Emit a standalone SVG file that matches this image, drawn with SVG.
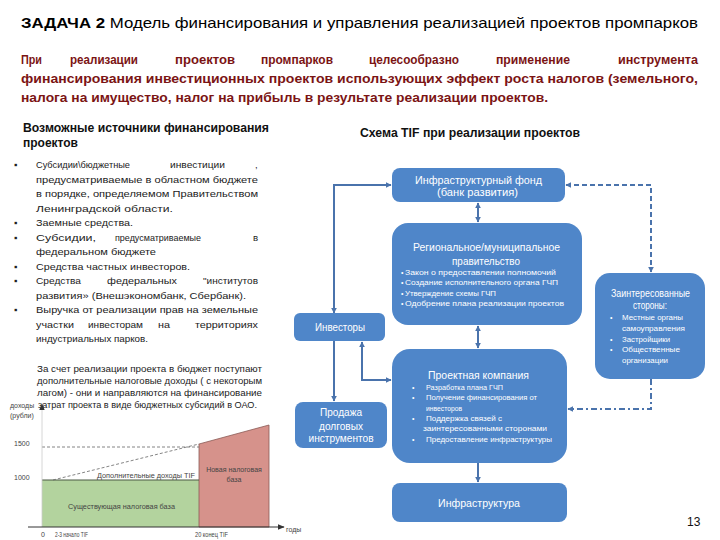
<svg xmlns="http://www.w3.org/2000/svg" width="720" height="540" viewBox="0 0 720 540">
<defs>
<style>
text{font-family:"Liberation Sans",Arial,sans-serif}
.title{font-size:15px;fill:#000}
.red{font-size:13.5px;font-weight:bold;fill:#7B1414}
.hd{font-size:12px;font-weight:bold;fill:#111}
.li{font-size:9.6px;fill:#222}
.par{font-size:8.5px;fill:#222}
.ch{font-size:7px;fill:#444}
.box{fill:#4F86C9}
.bt{fill:#fff;font-size:10px}
.bs{fill:#fff;font-size:7px}
.con{fill:none;stroke:#4A73AC;stroke-width:2}
.dash{stroke-dasharray:5 3}
.dd{stroke-dasharray:6 3 2 3}
</style>
<marker id="ar" viewBox="0 0 10 10" refX="9" refY="5" markerWidth="6" markerHeight="6" markerUnits="userSpaceOnUse" orient="auto-start-reverse">
<path d="M0,0 L10,5 L0,10 z" fill="#4A73AC"/>
</marker>
<marker id="ca" viewBox="0 0 10 10" refX="9" refY="5" markerWidth="7" markerHeight="7" markerUnits="userSpaceOnUse" orient="auto">
<path d="M0,1 L10,5 L0,9 z" fill="#333"/>
</marker>
</defs>
<rect width="720" height="540" fill="#fff"/>

<!-- Title -->
<text class="title" x="21" y="28" textLength="677" lengthAdjust="spacingAndGlyphs"><tspan font-weight="bold">ЗАДАЧА 2</tspan> Модель финансирования и управления реализацией проектов промпарков</text>

<!-- Red paragraph -->
<g class="red">
<text x="21" y="64" textLength="21" lengthAdjust="spacingAndGlyphs">При</text>
<text x="70" y="64" textLength="68" lengthAdjust="spacingAndGlyphs">реализации</text>
<text x="175" y="64" textLength="60" lengthAdjust="spacingAndGlyphs">проектов</text>
<text x="261" y="64" textLength="72" lengthAdjust="spacingAndGlyphs">промпарков</text>
<text x="369" y="64" textLength="90" lengthAdjust="spacingAndGlyphs">целесообразно</text>
<text x="496" y="64" textLength="74" lengthAdjust="spacingAndGlyphs">применение</text>
<text x="618" y="64" textLength="80" lengthAdjust="spacingAndGlyphs">инструмента</text>
<text x="21" y="83" textLength="677" lengthAdjust="spacingAndGlyphs">финансирования инвестиционных проектов использующих эффект роста налогов (земельного,</text>
<text x="21" y="102" textLength="527" lengthAdjust="spacingAndGlyphs">налога на имущество, налог на прибыль  в результате реализации проектов.</text>
</g>

<!-- Left column -->
<g id="sources">
<text class="hd" x="23" y="132" textLength="246" lengthAdjust="spacingAndGlyphs">Возможные источники финансирования</text>
<text class="hd" x="23" y="147" textLength="55" lengthAdjust="spacingAndGlyphs">проектов</text>
<g class="li">
<text x="14" y="168">▪</text>
<text x="36" y="168" textLength="94" lengthAdjust="spacingAndGlyphs">Субсидии\бюджетные</text>
<text x="170" y="168" textLength="55" lengthAdjust="spacingAndGlyphs">инвестиции</text>
<text x="255" y="168">,</text>
<text x="36" y="182.5" textLength="222" lengthAdjust="spacingAndGlyphs">предусматриваемые в областном бюджете</text>
<text x="36" y="197" textLength="222" lengthAdjust="spacingAndGlyphs">в порядке, определяемом Правительством</text>
<text x="36" y="211.5" textLength="137" lengthAdjust="spacingAndGlyphs">Ленинградской  области.</text>
<text x="14" y="226">▪</text>
<text x="36" y="226" textLength="97" lengthAdjust="spacingAndGlyphs">Заемные средства.</text>
<text x="14" y="240.5">▪</text>
<text x="36" y="240.5" textLength="60" lengthAdjust="spacingAndGlyphs">Субсидии,</text>
<text x="115" y="240.5" textLength="86" lengthAdjust="spacingAndGlyphs">предусматриваемые</text>
<text x="253" y="240.5">в</text>
<text x="36" y="255" textLength="120" lengthAdjust="spacingAndGlyphs">федеральном бюджете</text>
<text x="14" y="269.5">▪</text>
<text x="36" y="269.5" textLength="154" lengthAdjust="spacingAndGlyphs">Средства частных инвесторов.</text>
<text x="14" y="284">▪</text>
<text x="36" y="284" textLength="45" lengthAdjust="spacingAndGlyphs">Средства</text>
<text x="107" y="284" textLength="70" lengthAdjust="spacingAndGlyphs">федеральных</text>
<text x="203" y="284" textLength="55" lengthAdjust="spacingAndGlyphs">"институтов</text>
<text x="36" y="298.5" textLength="210" lengthAdjust="spacingAndGlyphs">развития» (Внешэкономбанк, Сбербанк).</text>
<text x="14" y="313">▪</text>
<text x="36" y="313" textLength="222" lengthAdjust="spacingAndGlyphs">Выручка от реализации прав на земельные</text>
<text x="36" y="327.5" textLength="38" lengthAdjust="spacingAndGlyphs">участки</text>
<text x="88" y="327.5" textLength="55" lengthAdjust="spacingAndGlyphs">инвесторам</text>
<text x="158" y="327.5" textLength="12" lengthAdjust="spacingAndGlyphs">на</text>
<text x="195" y="327.5" textLength="63" lengthAdjust="spacingAndGlyphs">территориях</text>
<text x="36" y="342" textLength="112" lengthAdjust="spacingAndGlyphs">индустриальных парков.</text>
</g>
</g>

<g id="note" class="par">
<text x="37" y="372" textLength="225" lengthAdjust="spacingAndGlyphs">За счет реализации проекта в бюджет поступают</text>
<text x="37" y="384" textLength="225" lengthAdjust="spacingAndGlyphs">дополнительные налоговые доходы ( с некоторым</text>
<text x="37" y="396" textLength="225" lengthAdjust="spacingAndGlyphs">лагом) - они и направляются на финансирование</text>
<text x="38" y="408" textLength="219" lengthAdjust="spacingAndGlyphs">затрат проекта в виде бюджетных субсидий в ОАО.</text>
</g>

<!-- Chart -->
<g id="chart">
<rect x="42" y="480" width="157" height="47" fill="#B3D39E"/>
<polygon points="199,444 269,425 269,527 199,527" fill="#D6928B" stroke="#8a5a55" stroke-width="0.8"/>
<line x1="42" y1="480" x2="199" y2="480" stroke="#4d5a45" stroke-width="1.2"/>
<line x1="42" y1="447" x2="199" y2="447" stroke="#666" stroke-width="0.8" stroke-dasharray="3 2"/>
<line x1="53" y1="480" x2="199" y2="444" stroke="#666" stroke-width="0.8" stroke-dasharray="3 2"/>
<line x1="42" y1="527" x2="42" y2="404" stroke="#ccc" stroke-width="0.8" marker-end="url(#ca)"/>
<line x1="28" y1="527" x2="284" y2="527" stroke="#333" stroke-width="1" marker-end="url(#ca)"/>
<text class="ch" x="10" y="408" font-size="5.5">доходы</text>
<text class="ch" x="10" y="418" font-size="5.5">(рубли)</text>
<text class="ch" x="14" y="446" font-size="8">1500</text>
<text class="ch" x="14" y="480" font-size="8">1000</text>
<text class="ch" x="97" y="478" textLength="98" lengthAdjust="spacingAndGlyphs">Дополнительные доходы TIF</text>
<text class="ch" x="234" y="472" text-anchor="middle">Новая налоговая</text>
<text class="ch" x="234" y="482" text-anchor="middle">база</text>
<text class="ch" x="68" y="509" textLength="107" lengthAdjust="spacingAndGlyphs">Существующая  налоговая база</text>
<text class="ch" x="41" y="537">0</text>
<text class="ch" x="55" y="537" textLength="33" lengthAdjust="spacingAndGlyphs">2-3 начало TIF</text>
<text class="ch" x="195" y="537" textLength="33" lengthAdjust="spacingAndGlyphs">20 конец TIF</text>
<text class="ch" x="286" y="532" font-size="5.5">годы</text>
</g>

<!-- Scheme title -->
<text class="hd" x="360" y="137" textLength="220" lengthAdjust="spacingAndGlyphs">Схема TIF при реализации проектов</text>

<!-- Connectors -->
<g id="connectors">
<path class="con" d="M334,313 V185 H391" marker-start="url(#ar)" marker-end="url(#ar)"/>
<path class="con" d="M334,341 V401" marker-end="url(#ar)"/>
<path class="con" d="M391,380 H362 V342" marker-start="url(#ar)" marker-end="url(#ar)"/>
<path class="con" d="M478,203 V222" marker-start="url(#ar)" marker-end="url(#ar)"/>
<path class="con" d="M478,326 V348" marker-start="url(#ar)" marker-end="url(#ar)"/>
<path class="con" d="M478,463 V482" marker-end="url(#ar)"/>
<path class="con dash" d="M566,185 H651 V272" marker-start="url(#ar)" marker-end="url(#ar)"/>
<path class="con dd" d="M651,379 V409 H568" marker-end="url(#ar)"/>
</g>

<!-- Nodes -->
<g id="fund">
<rect class="box" x="392" y="168" width="173" height="34" rx="8"/>
<text class="bt" x="415" y="184" textLength="127" lengthAdjust="spacingAndGlyphs">Инфраструктурный фонд</text>
<text class="bt" x="437" y="196" textLength="81" lengthAdjust="spacingAndGlyphs">(банк развития)</text>
</g>

<g id="government">
<rect class="box" x="392" y="223" width="190" height="102" rx="16"/>
<text class="bt" x="413" y="250.5" textLength="147" lengthAdjust="spacingAndGlyphs">Региональное/муниципальное</text>
<text class="bt" x="452" y="264.5" textLength="68" lengthAdjust="spacingAndGlyphs">правительство</text>
<g class="bs">
<text x="401" y="275">•</text><text x="405" y="275" textLength="151" lengthAdjust="spacingAndGlyphs">Закон о предоставлении полномочий</text>
<text x="401" y="285">•</text><text x="405" y="285" textLength="153" lengthAdjust="spacingAndGlyphs">Создание исполнительного органа ГЧП</text>
<text x="401" y="295.5">•</text><text x="405" y="295.5" textLength="91" lengthAdjust="spacingAndGlyphs">Утверждение схемы ГЧП</text>
<text x="401" y="305.5">•</text><text x="405" y="305.5" textLength="159" lengthAdjust="spacingAndGlyphs">Одобрение плана реализации  проектов</text>
</g>
</g>

<g id="stakeholders">
<rect class="box" x="595" y="273" width="110" height="106" rx="15"/>
<text class="bt" x="611" y="297" font-size="9" textLength="79" lengthAdjust="spacingAndGlyphs">Заинтересованные</text>
<text class="bt" x="633" y="308.5" font-size="9" textLength="34" lengthAdjust="spacingAndGlyphs">стороны:</text>
<g class="bs" font-size="7.5">
<text x="610" y="319.5">•</text><text x="622" y="319.5" textLength="61" lengthAdjust="spacingAndGlyphs">Местные органы</text>
<text x="622" y="330.5" textLength="63" lengthAdjust="spacingAndGlyphs">самоуправления</text>
<text x="610" y="341.5">•</text><text x="622" y="341.5" textLength="48" lengthAdjust="spacingAndGlyphs">Застройщики</text>
<text x="610" y="352">•</text><text x="622" y="352" textLength="58" lengthAdjust="spacingAndGlyphs">Общественные</text>
<text x="622" y="363" textLength="46" lengthAdjust="spacingAndGlyphs">организации</text>
</g>
</g>

<g id="investors">
<rect class="box" x="294" y="313" width="91" height="28" rx="6"/>
<text class="bt" x="315" y="331" textLength="50" lengthAdjust="spacingAndGlyphs">Инвесторы</text>
</g>

<g id="debt">
<rect class="box" x="295" y="402" width="92" height="46" rx="8"/>
<text class="bt" x="341" y="416" font-size="11" text-anchor="middle" textLength="42" lengthAdjust="spacingAndGlyphs">Продажа</text>
<text class="bt" x="341" y="430" font-size="11" text-anchor="middle" textLength="44" lengthAdjust="spacingAndGlyphs">долговых</text>
<text class="bt" x="341" y="442" font-size="11" text-anchor="middle" textLength="65" lengthAdjust="spacingAndGlyphs">инструментов</text>
</g>

<g id="company">
<rect class="box" x="392" y="349" width="175" height="114" rx="18"/>
<text class="bt" x="428" y="378.5" textLength="101" lengthAdjust="spacingAndGlyphs">Проектная компания</text>
<g class="bs" font-size="7.5">
<text x="412" y="390">•</text><text x="426" y="390" textLength="77" lengthAdjust="spacingAndGlyphs">Разработка плана ГЧП</text>
<text x="412" y="400">•</text><text x="426" y="400" textLength="111" lengthAdjust="spacingAndGlyphs">Получение финансирования от</text>
<text x="426" y="410.5" textLength="36" lengthAdjust="spacingAndGlyphs">инвесторов</text>
<text x="412" y="420.5">•</text><text x="426" y="420.5" textLength="76" lengthAdjust="spacingAndGlyphs">Поддержка связей с</text>
<text x="423" y="431" textLength="124" lengthAdjust="spacingAndGlyphs">заинтересованными сторонами</text>
<text x="412" y="441.5">•</text><text x="426" y="441.5" textLength="126" lengthAdjust="spacingAndGlyphs">Предоставление инфраструктуры</text>
</g>
</g>

<g id="infrastructure">
<rect class="box" x="392" y="483" width="175" height="39" rx="8"/>
<text class="bt" x="438" y="507" font-size="12" textLength="82" lengthAdjust="spacingAndGlyphs">Инфраструктура</text>
</g>

<text x="687" y="526" font-size="12" fill="#111">13</text>
</svg>
